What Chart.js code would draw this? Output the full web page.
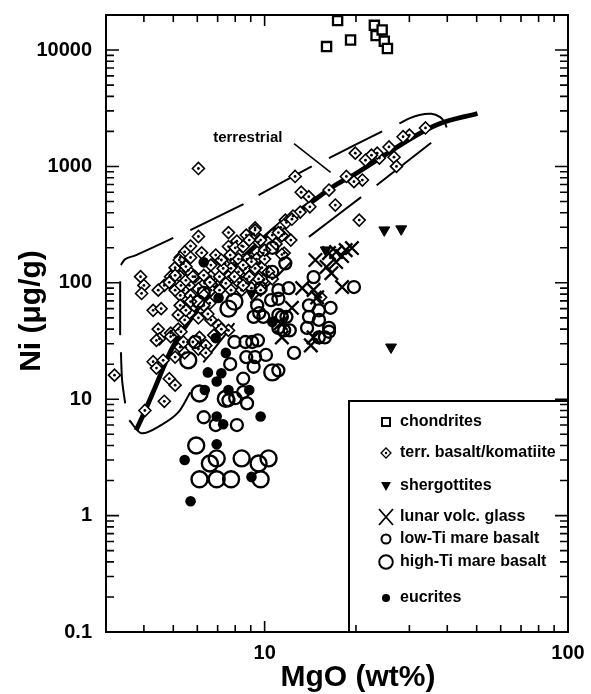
<!DOCTYPE html>
<html><head><meta charset="utf-8">
<script src="https://cdn.jsdelivr.net/npm/chart.js@4.4.1/dist/chart.umd.min.js"></script>
<style>html,body{margin:0;padding:0;background:#fff}#wrap{width:591px;height:694px}</style>
</head><body><div id="wrap"><canvas id="c" width="591" height="694"></canvas></div>
<script>
// ---------- data (MgO wt%, Ni µg/g) ----------
const xTickLabels = ['10', '100'];
const yTickLabels = ['0.1', '1', '10', '100', '1000', '10000'];
const xTitle = 'MgO (wt%)';
const yTitle = 'Ni (μg/g)';
const legendLabels = ['chondrites', 'terr. basalt/komatiite', 'shergottites', 'lunar volc. glass', 'low-Ti mare basalt', 'high-Ti mare basalt', 'eucrites'];
const trendLabel = 'terrestrial';
const trendLabelAt = [8.8, 1770];

const chondrites = [[17.4,17900],[16.0,10700],[19.2,12200],[23.0,16300],[23.3,13300],[24.4,14900],[24.8,11900],[25.4,10300]];

const terrBasalt = [
[33.9,2140],[30.0,1860],[28.6,1800],[25.7,1470],[26.7,1200],[27.2,1000],[23.9,1180],[23.5,1300],[22.5,1250],[21.5,1130],[19.9,1300],
[21.0,764],[19.7,740],[18.6,820],[16.3,627],[17.1,466],[20.5,346],[14.1,450],[13.98,550],[13.2,600],[13.1,405],[12.4,375],[11.7,346],
[11.3,300],[11.6,263],[12.6,820],[11.6,180],[15.3,75],
[11.8,330],[11.4,255],[10.6,257],[9.2,263],[8.7,257],[8.4,208],[9.55,225],[9.9,180],[11.4,175],[8.5,157],[9.05,162],[9.8,135],
[8.4,112],[8.7,100],[9.9,105],[9.3,296],[12.3,352],
[6.05,960],[6.05,250],[7.6,270],[9.3,284],[8.1,228],[7.6,205],[9.7,233],[11.1,270],[5.7,207],[5.45,184],[5.27,165],[5.7,165],
[5.4,146],[5.07,135],[5.27,113],[4.9,113],[4.67,95],[4.46,86.5],[5.6,128],[5.9,113],[6.65,142],[7.04,162],[7.4,147],[7.75,160],
[8.2,160],[8.75,160],[9.4,160],[10.0,160],[10.0,191],[7.75,133],[8.2,124],[8.65,133],[9.3,133],[10.3,124],[10.6,108],[9.55,108],
[8.75,108],[8.2,101],[7.6,113],[7.2,101],[6.65,113],[6.35,99],[6.05,89],[5.65,95],[5.4,86.5],[5.27,78],[5.7,78],[6.65,86.5],
[7.1,86.5],[7.75,86.5],[8.4,86.5],[9.05,90],[9.7,86.5],[6.6,67],[6.2,55],[6.05,50],[5.65,55],[5.4,62],[5.45,48],[5.19,53],
[5.19,40],[4.9,37],[4.46,40],[4.5,33],[4.29,58],[4.56,60],[3.9,113],[4.0,95],[3.93,81],[6.65,48],[7.04,43],[7.6,39],[6.05,31],
[4.85,101],[5.07,86.5],[5.3,95],[5.5,105],[5.8,113],[5.07,116],[5.3,150],[6.3,116],[6.6,101],[7.1,113],[7.45,99],[7.95,113],
[8.5,95],[8.9,113],[7.3,133],[8.5,142],[9.05,152],[5.27,64],[5.5,58],[5.7,69],[6.3,64],[6.5,54],[4.4,32],[5.0,35.5],[5.3,38],
[5.27,28],[5.4,31],[5.8,31],[6.1,34],[6.4,29],[5.45,25],[5.07,23],[4.29,21],[4.63,21.6],[4.4,18.5],[4.85,15],[5.07,13.2],
[3.2,16.1],[4.03,8.0],[4.67,9.6],[4.9,34.5],[6.05,27],[6.4,25],[7.2,40],[6.8,35.5],[6.9,173],[7.2,157],[8.0,200],[8.5,205],
[8.9,233],[7.7,173],[6.2,181],[5.23,157],[5.5,138],[10.9,216],[12.2,233]
];

const shergottites = [[24.8,284],[28.2,290],[26.1,28],[15.9,191],[9.05,81]];

const lunarGlass = [[14.7,157],[16.3,180],[17.2,184],[19.4,199],[18.5,191],[16.0,137],[16.6,121],[18.0,92],[13.3,90],[14.5,87],
[14.9,75],[12.3,61],[11.3,45],[11.4,34],[14.5,34],[14.2,29],[17.2,151],[18.0,170]];

const lowTi = [[10.6,200],[11.7,147],[10.6,124],[14.5,112],[12.0,90],[11.1,86.5],[9.7,90],[11.1,73],[10.5,71],[9.45,64],[9.9,51],
[9.2,51],[11.4,51],[11.8,51],[14.0,64],[15.1,58],[16.5,61],[14.0,51],[15.1,48],[13.8,41],[16.3,41],[19.7,92],[15.1,34],[12.1,39],
[11.1,41],[11.6,39],[7.95,31],[8.65,31],[9.1,31],[9.5,32],[12.5,25],[11.1,17.7],[6.3,82],[6.05,69],[9.6,55],[11.1,53],[10.1,24],
[9.2,19],[8.7,23],[9.3,23],[7.7,20],[8.5,15],[6.3,7.0],[8.5,11.5],[8.75,9.2],[8.0,10.2],[8.1,6.0],[6.9,6.0],[7.6,9.8],[5.9,31],
[15.8,34],[16.3,38]];

const highTi = [[7.95,69],[7.6,60],[5.6,21.6],[6.1,11.2],[5.95,4.0],[6.6,2.8],[6.95,3.1],[8.4,3.1],[9.55,2.8],[10.3,3.1],[6.1,2.05],
[6.95,2.05],[7.75,2.05],[9.7,2.05],[10.6,17],[7.45,10.1]];

const eucrites = [[6.3,150],[7.05,74],[6.9,33.5],[10.6,46],[7.45,25],[6.5,17],[7.2,16.7],[6.95,14.2],[6.35,12],[7.6,12],[8.9,12],
[6.95,7.1],[7.3,6.1],[9.7,7.1],[6.95,4.1],[5.45,3.0],[9.05,2.15],[5.7,1.33]];

const trendLine = [[3.77,5.4],[4.04,8.0],[4.36,12.7],[4.92,26.4],[5.6,45.8],[6.53,76],[7.89,135],[9.55,220],[11.6,340],[14.0,475],
[16.65,660],[20.0,870],[23.9,1170],[30.7,1770],[37.7,2330],[50.3,2850]];

const upperEnvelope = [
 [[3.36,142],[3.47,160],[3.77,173],[5.0,243]],
 [[5.69,284],[8.52,475]],
 [[9.55,568],[14.3,1000]],
 [[16.3,1180],[24.4,2000]],
 [[27.8,2340],[30.0,2590],[32.4,2770],[35.4,2830],[37.9,2650],[39.2,2400],[39.8,2160]]
];
const lowerEnvelope = [
 [[3.58,6.6],[3.93,5.1],[4.56,6.0],[5.19,7.7],[5.69,11.5]],
 [[6.28,20.7],[7.95,45]],
 [[8.97,67],[12.2,150]],
 [[14.0,248],[20.8,545]],
 [[23.4,690],[35.4,1600]]
];
const leftEnvelope = [
 [[3.34,103],[3.34,35.5]],
 [[3.36,25.3],[3.39,14.6],[3.47,9.2]]
];
const leaderLine = [[12.5,1570],[16.5,890]];

// ---------- rendering ----------
const FONT = "'Liberation Sans', Arial, Helvetica, sans-serif";
const pts = a => a.map(([x, y]) => ({x, y}));
const labelFor = (v, labels) => {
  const hit = labels.find(l => Math.abs(Math.log10(v) - Math.log10(parseFloat(l))) < 1e-6);
  return hit === undefined ? '' : hit;
};
const lineDS = (arr, w, extra) => Object.assign({data: pts(arr), showLine: true, pointRadius: 0, borderColor: '#000',
  borderWidth: w, fill: false, tension: 0}, extra || {});

const datasets = [
  {data: pts(eucrites), pointStyle: 'circle', pointRadius: 5.3, backgroundColor: '#000', borderColor: '#000', borderWidth: 0},
  {data: pts(lunarGlass), pointStyle: 'crossRot', pointRadius: 9.5, borderColor: '#000', borderWidth: 2.3},
  {data: pts(shergottites), pointStyle: 'triangle', rotation: 180, pointRadius: 6.3, backgroundColor: '#000', borderColor: '#000', borderWidth: 1},
  {data: pts(chondrites), pointStyle: 'rect', pointRadius: 6.5, backgroundColor: '#fff', borderColor: '#000', borderWidth: 2.3},
  {data: pts(highTi), pointStyle: 'circle', pointRadius: 8, backgroundColor: 'rgba(0,0,0,0)', borderColor: '#000', borderWidth: 2.4},
  {data: pts(lowTi), pointStyle: 'circle', pointRadius: 6, backgroundColor: 'rgba(0,0,0,0)', borderColor: '#000', borderWidth: 2.3},
  {data: pts(terrBasalt), pointStyle: 'circle', pointRadius: 1.4, backgroundColor: '#000', borderWidth: 0},
  {data: pts(terrBasalt), pointStyle: 'rectRot', pointRadius: 6, backgroundColor: '#fff', borderColor: '#000', borderWidth: 1.6},
  lineDS(trendLine, 4.8, {tension: 0.35, borderCapStyle: 'butt'}),
  lineDS(leaderLine, 1.5)
];
upperEnvelope.concat(lowerEnvelope, leftEnvelope).forEach(seg => datasets.push(lineDS(seg, 2, {tension: 0.3})));

function logTicks(min, max) {
  const out = [];
  for (let e = Math.floor(Math.log10(min)); e <= Math.ceil(Math.log10(max)); e++) {
    for (let m = 1; m < 10; m++) {
      const v = m * Math.pow(10, e);
      if (v >= min * 0.999 && v <= max * 1.001) out.push({v, major: m === 1});
    }
  }
  return out;
}

const decor = {
  id: 'decor',
  afterDraw(chart) {
    const {ctx, chartArea: a, scales: {x, y}} = chart;
    ctx.save();
    ctx.fillStyle = '#000'; ctx.strokeStyle = '#000';
    // annotation text
    ctx.font = 'bold 15px ' + FONT;
    ctx.textAlign = 'center'; ctx.textBaseline = 'middle';
    ctx.fillText(trendLabel, x.getPixelForValue(trendLabelAt[0]), y.getPixelForValue(trendLabelAt[1]));

    // legend box
    const L = 349, T = 401, R = a.right, B = a.bottom;
    ctx.fillStyle = '#fff'; ctx.fillRect(L, T, R - L, B - T);
    ctx.lineWidth = 2; ctx.strokeRect(L, T, R - L, B - T);
    const rows = [422, 453, 486, 517, 539, 562, 598];
    const mx = 386;
    ctx.font = 'bold 16px ' + FONT; ctx.textAlign = 'left'; ctx.textBaseline = 'middle';
    rows.forEach((ry, i) => {
      ctx.fillStyle = '#000'; ctx.strokeStyle = '#000';
      ctx.beginPath();
      if (i === 0) { ctx.lineWidth = 2; ctx.fillStyle = '#fff'; ctx.rect(mx - 4, ry - 4, 8, 8); ctx.fill(); ctx.stroke(); }
      else if (i === 1) { ctx.lineWidth = 1.3; ctx.moveTo(mx - 5, ry); ctx.lineTo(mx, ry - 5); ctx.lineTo(mx + 5, ry); ctx.lineTo(mx, ry + 5); ctx.closePath(); ctx.stroke();
        ctx.beginPath(); ctx.arc(mx, ry, 1.2, 0, Math.PI * 2); ctx.fill(); }
      else if (i === 2) { ctx.moveTo(mx - 5, ry - 4); ctx.lineTo(mx + 5, ry - 4); ctx.lineTo(mx, ry + 5); ctx.closePath(); ctx.fill(); }
      else if (i === 3) { ctx.lineWidth = 1.8; ctx.moveTo(mx - 7, ry - 8); ctx.lineTo(mx + 7, ry + 8); ctx.moveTo(mx + 7, ry - 8); ctx.lineTo(mx - 7, ry + 8); ctx.stroke(); }
      else if (i === 4) { ctx.lineWidth = 2; ctx.arc(mx, ry, 4.5, 0, Math.PI * 2); ctx.stroke(); }
      else if (i === 5) { ctx.lineWidth = 2; ctx.arc(mx, ry, 6.8, 0, Math.PI * 2); ctx.stroke(); }
      else { ctx.arc(mx, ry, 4, 0, Math.PI * 2); ctx.fill(); }
      ctx.fillStyle = '#000';
      ctx.fillText(legendLabels[i], 400, ry);
    });

    // inward ticks on all four sides
    ctx.lineWidth = 1.6; ctx.strokeStyle = '#000';
    ctx.beginPath();
    logTicks(x.min, x.max).forEach(t => {
      const px = x.getPixelForValue(t.v), len = t.major ? 11 : 7;
      ctx.moveTo(px, a.bottom); ctx.lineTo(px, a.bottom - len);
      ctx.moveTo(px, a.top); ctx.lineTo(px, a.top + len);
    });
    logTicks(y.min, y.max).forEach(t => {
      const py = y.getPixelForValue(t.v), len = t.major ? 13 : 8;
      ctx.moveTo(a.left, py); ctx.lineTo(a.left + len, py);
      ctx.moveTo(a.right, py); ctx.lineTo(a.right - len, py);
    });
    ctx.stroke();
    // frame
    ctx.lineWidth = 2;
    ctx.strokeRect(a.left, a.top, a.right - a.left, a.bottom - a.top);

    // axis titles
    ctx.fillStyle = '#000';
    ctx.font = 'bold 30px ' + FONT;
    ctx.textAlign = 'center'; ctx.textBaseline = 'alphabetic';
    ctx.fillText(xTitle, 358, 686);
    ctx.translate(40, 311); ctx.rotate(-Math.PI / 2);
    ctx.fillText(yTitle, 0, 0);
    ctx.restore();
  }
};

const tickFont = {family: FONT, weight: 'bold', size: 20};
new Chart(document.getElementById('c'), {
  type: 'scatter',
  data: {datasets},
  options: {
    responsive: false, animation: false, devicePixelRatio: 1,
    layout: {padding: {left: 0, top: 15, right: 23, bottom: 0}},
    plugins: {legend: {display: false}, tooltip: {enabled: false}},
    events: [],
    scales: {
      x: {type: 'logarithmic', min: 3, max: 100,
        grid: {display: false, drawTicks: false}, border: {display: false},
        ticks: {autoSkip: false, maxRotation: 0, minRotation: 0, padding: 9, color: '#000', font: tickFont,
          callback: v => labelFor(v, xTickLabels)},
        afterFit: s => { s.height = 62; s.paddingLeft = 0; s.paddingRight = 0; }},
      y: {type: 'logarithmic', min: 0.1, max: 20000,
        grid: {display: false, drawTicks: false}, border: {display: false},
        ticks: {autoSkip: false, padding: 14, color: '#000', font: tickFont,
          callback: v => labelFor(v, yTickLabels)},
        afterFit: s => { s.width = 106; s.paddingTop = 0; s.paddingBottom = 0; }}
    }
  },
  plugins: [decor]
});
</script></body></html>
